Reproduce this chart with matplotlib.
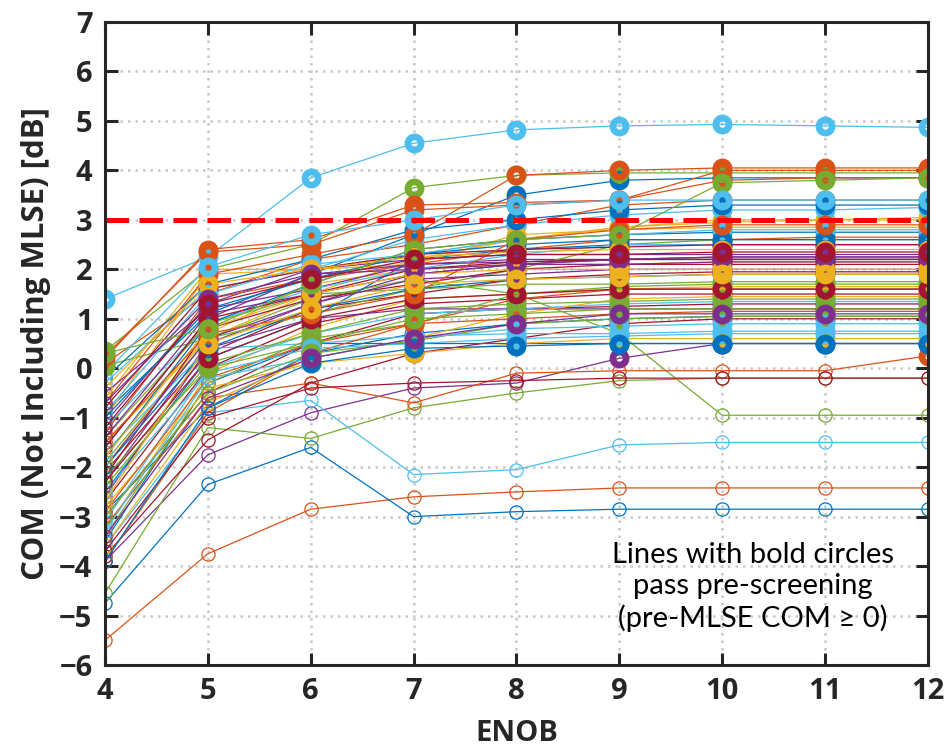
import numpy as np
import matplotlib.pyplot as plt

plt.rcParams['font.family'] = ['Open Sans', 'DejaVu Sans']

# ENOB değerleri (x ekseni)
enob = [4, 5, 6, 7, 8, 9, 10, 11, 12]

# COM eğrileri (her satır bir kanal)
com_curves = [
    [-0.9, 1.1, 1.9, 2.7, 3.5, 3.8, 3.85, 3.85, 3.85],
    [-5.5, -3.75, -2.85, -2.6, -2.5, -2.42, -2.42, -2.42, -2.42],
    [-1.5, 0.6, 1.5, 2.2, 2.6, 2.85, 2.95, 3.0, 3.05],
    [-2.3, 0.5, 1.3, 1.9, 2.1, 2.2, 2.2, 2.2, 2.2],
    [0.35, 2.0, 2.5, 3.65, 3.9, 3.95, 3.95, 3.95, 3.95],
    [1.4, 2.25, 3.85, 4.55, 4.82, 4.9, 4.93, 4.9, 4.87],
    [-2.1, 0.3, 1.2, 1.5, 1.8, 1.9, 1.95, 1.95, 1.95],

    [-4.75, -2.35, -1.6, -3.0, -2.9, -2.85, -2.85, -2.85, -2.85],
    [0.2, 2.4, 2.6, 3.3, 3.35, 3.4, 3.8, 3.85, 3.85],
    [-0.6, 2.0, 2.0, 2.3, 2.6, 2.85, 3.0, 3.0, 3.0],
    [-3.9, -1.75, -0.9, -0.4, -0.3, 0.2, 0.5, 0.5, 0.5],
    [-4.55, -1.2, -1.42, -0.8, -0.5, -0.25, -0.2, -0.2, -0.2],
    [-3.6, -0.9, -0.65, -2.15, -2.05, -1.55, -1.5, -1.5, -1.5],
    [-3.8, -1.45, -0.3, 0.3, 0.6, 0.9, 1.0, 1.0, 1.0],

    [-2.9, -0.8, 0.3, 0.7, 0.9, 1.0, 1.05, 1.05, 1.05],
    [0.1, 1.5, 2.2, 2.5, 2.9, 3.3, 3.4, 3.4, 3.4],
    [-3.3, -0.1, 0.8, 1.4, 1.5, 1.6, 1.65, 1.65, 1.65],
    [-1.1, 1.3, 2.0, 2.2, 2.3, 2.3, 2.3, 2.3, 2.3],
    [-1.9, 0.6, 1.4, 1.8, 1.5, 0.7, -0.95, -0.95, -0.95],
    [-0.3, 1.6, 2.0, 2.6, 2.9, 3.1, 3.2, 3.2, 3.25],
    [-2.7, 0.0, 0.9, 1.3, 1.4, 1.5, 1.5, 1.5, 1.5],

    [-3.5, -0.3, 0.5, 0.5, 0.5, 0.5, 0.5, 0.5, 0.5],
    [-1.3, 1.4, 1.8, 2.1, 2.4, 2.6, 2.6, 2.65, 2.65],
    [-2.0, 0.7, 1.7, 2.0, 2.1, 2.1, 2.15, 2.15, 2.15],
    [-0.5, 1.2, 1.6, 2.1, 2.2, 2.2, 2.25, 2.25, 2.25],
    [0.05, 0.6, 1.1, 1.6, 2.0, 2.5, 2.6, 2.6, 2.6],
    [-1.7, 0.4, 0.5, 0.65, 0.7, 0.7, 0.75, 0.75, 0.75],
    [-3.0, -0.5, 0.5, 1.1, 1.2, 1.25, 1.3, 1.3, 1.3],

    [-2.5, 0.2, 1.0, 2.2, 2.4, 2.5, 2.5, 2.5, 2.5],
    [-3.2, -0.6, -0.3, -0.7, -0.1, -0.05, -0.05, -0.05, 0.25],
    [-1.0, 1.9, 2.0, 2.1, 2.7, 2.8, 2.85, 2.85, 2.85],
    [-2.6, 0.4, 1.0, 1.2, 1.2, 1.2, 1.2, 1.2, 1.2],
    [-3.4, -0.3, 0.6, 0.9, 1.5, 1.65, 1.7, 1.7, 1.7],
    [-1.2, 0.9, 1.6, 2.0, 2.3, 2.5, 2.5, 2.5, 2.5],
    [-2.2, 0.8, 1.4, 1.7, 2.0, 2.1, 2.1, 2.1, 2.1],

    [-0.2, 1.7, 2.2, 2.8, 3.0, 3.2, 3.3, 3.3, 3.3],
    [-3.9, -0.9, 0.3, 0.9, 1.4, 1.6, 1.6, 1.6, 1.6],
    [-2.8, -0.4, 0.1, 0.3, 0.5, 0.6, 0.6, 0.6, 0.6],
    [-1.6, 1.0, 1.9, 2.1, 2.15, 2.2, 2.2, 2.2, 2.2],
    [-1.4, 0.9, 1.5, 1.6, 1.7, 1.7, 1.75, 1.75, 1.75],
    [-3.1, 0.0, 0.7, 1.1, 1.2, 1.3, 1.35, 1.35, 1.35],
    [-0.8, 1.6, 2.0, 2.3, 2.4, 2.45, 2.5, 2.5, 2.5],

    [-1.8, 0.9, 1.7, 2.4, 2.6, 2.7, 2.75, 2.75, 2.75],
    [-0.7, 1.9, 2.3, 2.7, 3.9, 4.0, 4.05, 4.05, 4.05],
    [-3.6, -0.7, 0.2, 0.6, 1.1, 1.4, 1.45, 1.45, 1.45],
    [-2.0, 0.6, 1.3, 1.8, 1.9, 2.0, 2.0, 2.0, 2.0],
    [-2.4, 0.1, 0.7, 1.2, 1.3, 1.35, 1.4, 1.4, 1.4],
    [-0.9, 1.5, 2.1, 2.3, 2.6, 2.7, 2.8, 2.8, 2.8],
    [-3.7, -1.0, -0.4, -0.3, -0.25, -0.2, -0.2, -0.2, -0.2],

    [-1.0, 1.2, 1.8, 2.3, 2.5, 2.6, 2.6, 2.6, 2.6],
    [-2.9, -0.2, 0.5, 0.9, 1.0, 1.1, 1.15, 1.15, 1.15],
    [-0.4, 1.7, 2.0, 2.25, 2.35, 2.4, 2.4, 2.4, 2.4],
    [-1.4, 1.1, 1.5, 1.9, 2.1, 2.1, 2.15, 2.15, 2.15],
    [-2.2, 0.0, 0.5, 1.0, 1.1, 1.2, 1.2, 1.2, 1.2],
    [-2.5, -0.1, 0.4, 0.5, 0.6, 0.65, 0.7, 0.7, 0.7],
    [-1.6, 1.0, 1.5, 2.0, 2.15, 2.2, 2.2, 2.2, 2.2],

    [-2.0, 0.4, 1.2, 1.6, 1.8, 1.85, 1.9, 1.9, 1.9],
    [0.25, 2.35, 2.5, 3.2, 3.3, 3.4, 4.0, 4.0, 4.0],
    [-1.8, 0.8, 1.5, 1.9, 2.0, 2.0, 2.0, 2.0, 2.0],
    [-0.7, 1.4, 1.9, 2.0, 2.1, 2.2, 2.25, 2.25, 2.25],
    [-3.0, -0.5, 0.3, 0.55, 0.9, 1.0, 1.05, 1.05, 1.05],
    [-3.3, -0.2, 0.2, 0.6, 0.8, 0.85, 0.9, 0.9, 0.9],
    [-2.3, 0.2, 1.0, 1.4, 1.5, 1.6, 1.6, 1.6, 1.6],

    [-3.9, -0.8, 0.1, 0.4, 0.45, 0.5, 0.5, 0.5, 0.5],
    [-1.5, 0.7, 1.1, 1.5, 2.6, 2.8, 2.9, 2.9, 2.9],
    [-2.7, 0.5, 1.2, 1.7, 1.8, 1.85, 1.9, 1.9, 1.9],
    [-3.4, -0.6, 0.2, 0.6, 0.9, 1.1, 1.1, 1.1, 1.1],
    [0.3, 0.8, 1.7, 2.4, 2.6, 2.7, 3.75, 3.8, 3.85],
    [-0.1, 2.05, 2.7, 3.0, 3.3, 3.4, 3.4, 3.4, 3.4],
    [-1.2, 1.3, 1.8, 2.2, 2.3, 2.3, 2.35, 2.35, 2.35],
]

com_hedef = 3.0  # kırmızı kesikli çizgi
aciklama = 'Lines with bold circles\npass pre-screening\n(pre-MLSE COM \u2265 0)'

# MATLAB varsayılan renk sırası
renkler = ['#0072bd', '#d95319', '#edb120', '#7e2f8e', '#77ac30', '#4dbeee', '#a2142f']

fig = plt.figure(figsize=(9.51, 7.52), dpi=100)
ax = fig.add_axes([0.1104, 0.1157, 0.8654, 0.855])

x = np.array(enob)
for i, egri in enumerate(com_curves):
    y = np.array(egri)
    c = renkler[i % len(renkler)]
    ax.plot(x, y, '-', color=c, lw=0.9, zorder=2)
    ince = y < 0
    ax.plot(x[ince], y[ince], 'o', color=c, mfc='none', ms=9.5, mew=0.9, zorder=2)
    kalin = ~ince
    ax.plot(x[kalin], y[kalin], 'o', color=c, mfc='none', ms=9.5, mew=4.8, zorder=3)

ax.plot([enob[0], enob[-1]], [com_hedef, com_hedef], color='#ff0000', lw=3.6,
        dashes=(4.7, 2.1), zorder=4, clip_on=False)

ax.set_xlim(4, 12)
ax.set_ylim(-6, 7)
ax.set_xticks(enob)
ax.set_yticks(np.arange(-6, 8, 1))
ax.set_yticklabels([str(v).replace('-', '\u2212') for v in range(-6, 8)])
ax.grid(True, color='#c8c8c8', lw=1.8, ls=(0, (1, 2)), zorder=0)
ax.set_axisbelow(True)

for s in ax.spines.values():
    s.set_color('#262626')
    s.set_linewidth(2.2)
    s.set_zorder(5)
ax.tick_params(direction='in', length=9, width=2.2, color='#262626', top=True, right=True,
               labelsize=21, labelcolor='#262626', pad=9)
for lab in ax.get_xticklabels() + ax.get_yticklabels():
    lab.set_fontweight('bold')

ax.set_xlabel('ENOB', fontsize=21, fontweight='bold', color='#262626', labelpad=9)
ax.set_ylabel('COM (Not Including MLSE) [dB]', fontsize=22.5, fontweight='bold',
              color='#262626', labelpad=6)

ax.text(10.3, -4.42, aciklama, ha='center', va='center', fontsize=21,
        family=['Lato', 'DejaVu Sans'], linespacing=1.25, zorder=6)

fig.savefig('out.png', dpi=100)
